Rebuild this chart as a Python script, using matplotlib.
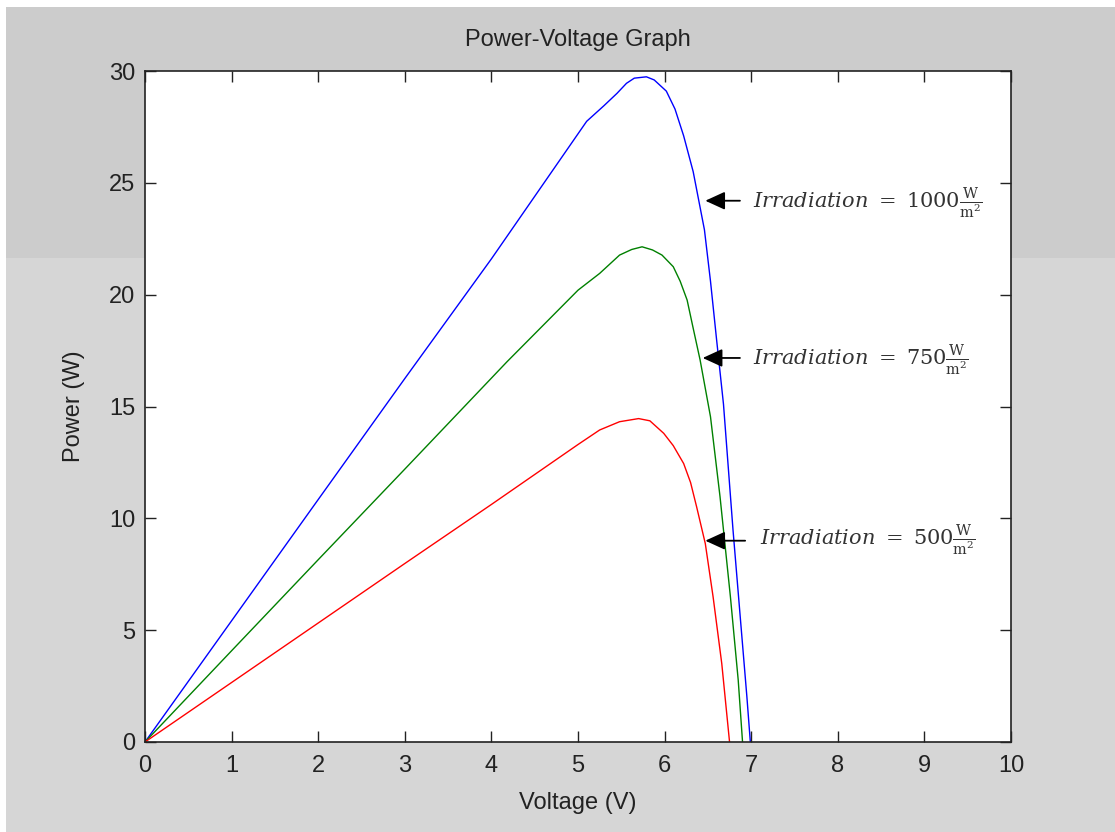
import matplotlib
matplotlib.use("Agg")
import matplotlib.pyplot as plt
from matplotlib.patches import Rectangle

# ---- data ----
v_1000 = [0, 1, 2, 3, 4, 5.10, 5.30, 5.45, 5.56, 5.65, 5.79, 5.88, 6.02, 6.12, 6.22, 6.33,
          6.39, 6.46, 6.53, 6.60, 6.68, 6.79, 6.87, 6.95, 6.99]
p_1000 = [0, 5.42, 10.84, 16.25, 21.6, 27.75, 28.45, 29.0, 29.45, 29.68, 29.74, 29.6, 29.1,
          28.3, 27.1, 25.5, 24.3, 22.9, 20.6, 18.0, 15.1, 9.48, 5.75, 2.03, 0]

v_750 = [0, 1, 2, 3, 4.18, 5.0, 5.25, 5.48, 5.62, 5.74, 5.86, 5.97, 6.10, 6.18, 6.26, 6.33,
         6.41, 6.53, 6.64, 6.76, 6.85, 6.90]
p_750 = [0, 4.08, 8.15, 12.2, 17.0, 20.2, 20.95, 21.77, 22.02, 22.14, 22.0, 21.77, 21.25,
         20.6, 19.76, 18.5, 17.08, 14.54, 10.97, 6.49, 2.77, 0]

v_500 = [0, 1, 2, 3, 4, 5.0, 5.25, 5.48, 5.70, 5.83, 5.99, 6.10, 6.22, 6.30, 6.37, 6.47,
         6.56, 6.66, 6.75]
p_500 = [0, 2.66, 5.32, 7.98, 10.62, 13.3, 13.95, 14.32, 14.46, 14.36, 13.8, 13.25, 12.45,
         11.6, 10.51, 8.87, 6.49, 3.51, 0]

labels = ["1000", "750", "500"]
arrow_tips = [(6.47, 24.2), (6.44, 17.17), (6.47, 9.0)]
arrow_tails = [(6.87, 24.2), (6.87, 17.17), (6.93, 9.0)]
text_pos = [(7.02, 24.1), (7.02, 17.1), (7.10, 9.05)]

x_ticks = list(range(0, 11))
y_ticks = [0, 5, 10, 15, 20, 25, 30]

plt.rcParams['mathtext.fontset'] = 'dejavuserif'
plt.rcParams['font.family'] = ['Liberation Sans', 'DejaVu Sans']

fig = plt.figure(figsize=(11.15, 8.32), dpi=100, facecolor='white')
# background bands
fig.patches.append(Rectangle((6/1115, 0), 1, 1 - 258/832, transform=fig.transFigure,
                             facecolor='#d6d6d6', edgecolor='none', zorder=-10))
fig.patches.append(Rectangle((6/1115, 1 - 258/832), 1, (258 - 7)/832, transform=fig.transFigure,
                             facecolor='#cccccc', edgecolor='none', zorder=-10))

ax = fig.add_axes([145/1115, 1 - 742/832, (1011 - 145)/1115, (742 - 71)/832])
ax.set_facecolor('white')

ax.plot(v_1000, p_1000, color='#0000ff', lw=1.0)
ax.plot(v_750, p_750, color='#008000', lw=1.0)
ax.plot(v_500, p_500, color='#ff0000', lw=1.0)

ax.set_xlim(0, 10)
ax.set_ylim(0, 30)
ax.set_xticks(x_ticks)
ax.set_yticks(y_ticks)

tc = '#222222'
ax.tick_params(direction='in', length=8, width=1, top=True, right=True,
               labelsize=17, colors=tc)
ax.tick_params(axis='x', pad=9)
ax.tick_params(axis='y', pad=7)
for s in ax.spines.values():
    s.set_linewidth(1.2)
    s.set_color('#222222')

ax.set_title('Power-Voltage Graph', fontsize=17, color=tc, pad=18)
ax.set_xlabel('Voltage (V)', fontsize=17, color=tc, labelpad=11)
ax.set_ylabel('Power (W)', fontsize=17, color=tc, labelpad=17)

for lab, tip, tail, tp in zip(labels, arrow_tips, arrow_tails, text_pos):
    ax.annotate('', xy=tip, xytext=tail,
                arrowprops=dict(arrowstyle='-|>,head_length=1.2,head_width=0.55',
                                color='black', lw=1.3, shrinkA=0, shrinkB=0))
    ax.text(tp[0], tp[1], r'$Irradiation\ =\ %s\frac{\mathrm{W}}{\mathrm{m^2}}$' % lab,
            fontsize=15, color='#333333', va='center', ha='left', clip_on=False)

fig.savefig('out.png', dpi=100, facecolor=fig.get_facecolor())
